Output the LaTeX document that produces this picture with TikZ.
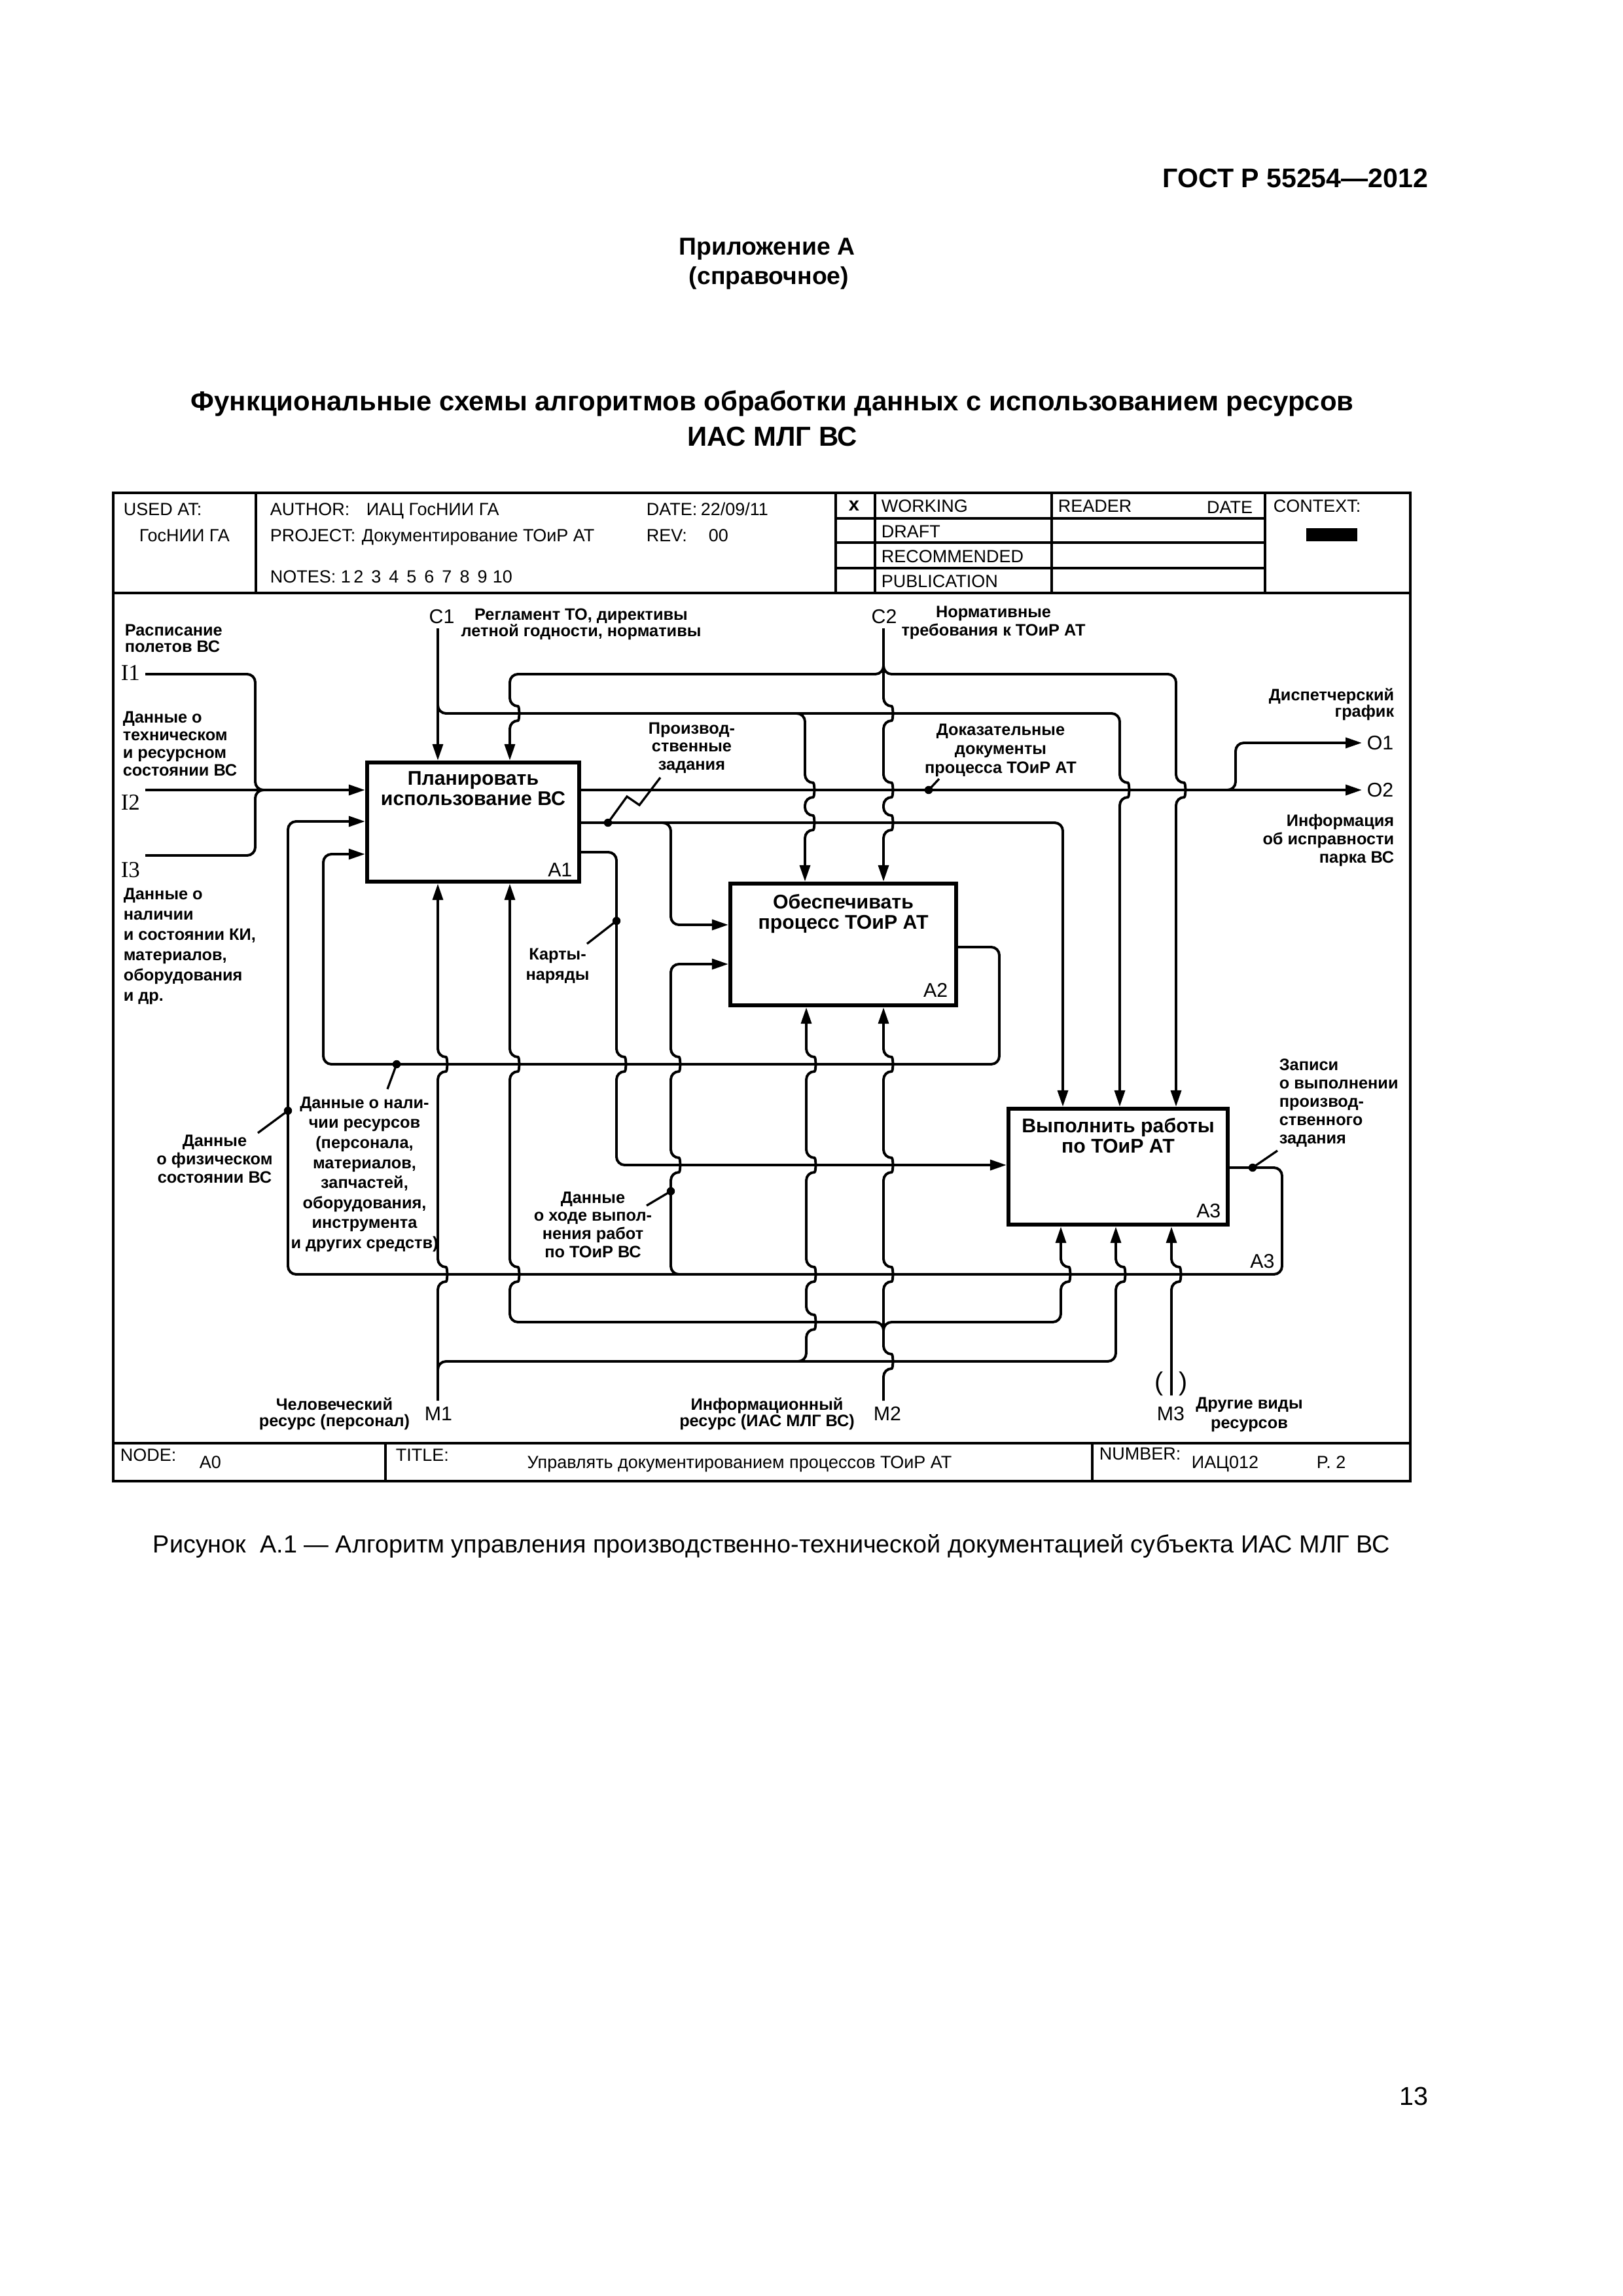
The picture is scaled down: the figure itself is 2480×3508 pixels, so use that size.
\documentclass[tikz,border=0pt]{standalone}
\usepackage{fontspec}
\setmainfont{Liberation Sans}
\newfontfamily\serifI{Liberation Serif}
\usetikzlibrary{arrows.meta}
\setlength{\lineskiplimit}{-5pt}
\begin{document}
\begin{tikzpicture}[x=0.0846774mm, y=-0.0846774mm,
  ln/.style={line width=0.95pt, rounded corners=3pt},
  arr/.style={ln, -{Triangle[length=6pt,width=3.8pt]}},
  lead/.style={line width=0.8pt},
  box/.style={draw, line width=1.5pt, inner sep=0pt},
  hd/.style args={#1/#2}{insert path={-- (#1,#2-11) .. controls (#1+15,#2-11) and (#1+15,#2+11) .. (#1,#2+11)}},
  hu/.style args={#1/#2}{insert path={-- (#1,#2+11) .. controls (#1+15,#2+11) and (#1+15,#2-11) .. (#1,#2-11)}},
  lbl/.style={font=\bfseries\fontsize{6.1}{#1}\selectfont, inner sep=0pt, align=center},
  lbl/.default=6.75,
  hdr/.style={font=\fontsize{6.5}{7.5}\selectfont, inner sep=0pt, anchor=base west},
  ltr/.style={font=\fontsize{7.3}{8}\selectfont, inner sep=0pt},
  iltr/.style={font=\serifI\fontsize{8.4}{9}\selectfont, inner sep=0pt, anchor=west},
  boxt/.style={font=\bfseries\fontsize{7.3}{7.47}\selectfont, inner sep=0pt, align=center, anchor=north},
  boxid/.style={font=\fontsize{7.3}{8}\selectfont, inner sep=0pt, anchor=south east},
  dot/.style={fill=black}
]
\useasboundingbox (0,0) rectangle (2480,3508);

% ---------- page texts ----------
\node[font=\bfseries\fontsize{9.9}{11}\selectfont, inner sep=0pt, anchor=base east] (gost) at (2183,286) {ГОСТ Р 55254—2012};
\node[font=\bfseries\fontsize{9}{10}\selectfont, inner sep=0pt, anchor=base] (pril) at (1172,389) {Приложение А};
\node[font=\bfseries\fontsize{9}{10}\selectfont, inner sep=0pt, anchor=base] (sprav) at (1175,434) {(справочное)};
\node[font=\bfseries\fontsize{10.1}{11}\selectfont, inner sep=0pt, anchor=base] (title1) at (1180,627) {Функциональные схемы алгоритмов обработки данных с использованием ресурсов};
\node[font=\bfseries\fontsize{10.1}{11}\selectfont, inner sep=0pt, anchor=base] (title2) at (1180,681) {ИАС МЛГ ВС};
\node[font=\fontsize{9.1}{11}\selectfont, inner sep=0pt, anchor=base] (caption) at (1179,2372) {Рисунок\ \ А.1 — Алгоритм управления производственно-технической документацией субъекта ИАС МЛГ ВС};
\node[font=\fontsize{9.5}{11}\selectfont, inner sep=0pt, anchor=base east] (pagenum) at (2183,3216) {13};

% ---------- frame ----------
\draw[line width=1pt] (173,753) rectangle (2155,2263);
\draw[line width=0.9pt] (173,906) -- (2155,906);
\draw[line width=0.9pt] (173,2205) -- (2155,2205);
\foreach \xx in {391,1277,1337,1607,1933} \draw[line width=0.9pt] (\xx,753) -- (\xx,906);
\foreach \yy in {792,829,868} \draw[line width=0.9pt] (1277,\yy) -- (1933,\yy);
\draw[line width=0.9pt] (589,2205) -- (589,2263);
\draw[line width=0.9pt] (1669,2205) -- (1669,2263);
\fill (1996,807) rectangle (2074,827);

% header texts
\node[hdr] (usedat) at (188,787) {USED AT:};
\node[hdr] (usedatv) at (212,827) {ГосНИИ ГА};
\node[hdr] (author) at (412,787) {AUTHOR:};
\node[hdr] (authorv) at (559,787) {ИАЦ ГосНИИ ГА};
\node[hdr] (project) at (412,827) {PROJECT:};
\node[hdr] (projectv) at (552,827) {Документирование ТОиР АТ};
\node[hdr] (date) at (987,787) {DATE:};
\node[hdr] (datev) at (1070,787) {22/09/11};
\node[hdr] (rev) at (987,827) {REV:};
\node[hdr] (revv) at (1082,827) {00};
\node[hdr] (notes) at (412,890) {NOTES: 1\,2\hspace{2.9pt}3\hspace{2.9pt}4\hspace{2.9pt}5\hspace{2.9pt}6\hspace{2.9pt}7\hspace{2.9pt}8\hspace{2.9pt}9\hspace{2pt}10};
\node[font=\bfseries\fontsize{7}{8}\selectfont, inner sep=0pt] (xmark) at (1305,773) {x};
\node[hdr] (working) at (1346,782) {WORKING};
\node[hdr] (draft) at (1346,821) {DRAFT};
\node[hdr] (recommended) at (1346,859) {RECOMMENDED};
\node[hdr] (publication) at (1346,897) {PUBLICATION};
\node[hdr] (reader) at (1616,782) {READER};
\node[hdr, anchor=base east] (datec) at (1915,784) {DATE};
\node[hdr] (context) at (1945,782) {CONTEXT:};

% footer texts
\node[hdr] (nodek) at (183,2232) {NODE:};
\node[hdr] (nodev) at (304,2243) {A0};
\node[hdr] (titlek) at (604,2232) {TITLE:};
\node[hdr, anchor=base] (titlev) at (1130,2243) {Управлять документированием процессов ТОиР АТ};
\node[hdr] (numberk) at (1679,2230) {NUMBER:};
\node[hdr] (numberv) at (1820,2243) {ИАЦ012};
\node[hdr] (pagek) at (2011,2243) {P. 2};

% ---------- boxes ----------
\node[box, minimum width=27.44mm, minimum height=15.41mm] (A1) at (723,1256) {};
\node[box, minimum width=29.21mm, minimum height=15.75mm] (A2) at (1288.5,1443) {};
\node[box, minimum width=28.37mm, minimum height=14.99mm] (A3) at (1708.5,1782.5) {};
\node[boxt] (A1t) at ([yshift=-1.35mm]A1.north) {Планировать\\использование ВС};
\node[boxt] (A2t) at ([yshift=-1.6mm]A2.north) {Обеспечивать\\процесс ТОиР АТ};
\node[boxt] (A3t) at ([yshift=-1.4mm]A3.north) {Выполнить работы\\по ТОиР АТ};
\node[boxid] (A1n) at ([xshift=-1.1mm, yshift=0.85mm]A1.south east) {A1};
\node[boxid] (A2n) at ([xshift=-1.27mm, yshift=1.27mm]A2.south east) {A2};
\node[boxid] (A3n) at ([xshift=-1.1mm, yshift=1.1mm]A3.south east) {A3};

% ---------- boundary points ----------
\coordinate (I1) at (222,1030);
\coordinate (I2) at (222,1207);
\coordinate (I3) at (222,1307);
\coordinate (C1) at (669,960);
\coordinate (C2) at (1350,960);
\coordinate (O1) at (2081,1135);
\coordinate (O2) at (2081,1207);
\coordinate (M1) at (669,2140);
\coordinate (M2) at (1350,2140);
\coordinate (M3) at (1790,2132);

% ---------- inputs ----------
\draw[arr] (I2) -- (A1.west |- 0,1207);
\draw[ln] (I1) -- (390,1030) -- (390,1207) -- (425,1207);
\draw[ln] (I3) -- (390,1307) -- (390,1207) -- (425,1207);

% ---------- controls ----------
\draw[arr] (C1) -- (669,0 |- A1.north);
\draw[arr] (669,1060) -- (669,1090) -- (1711,1090) [hd=1711/1207] -- (1711,0 |- A3.north);
\draw[arr] (1200,1090) -- (1230,1090) [hd=1230/1207] [hd=1230/1257] -- (1230,0 |- A2.north);
\draw[arr] (C2) [hd=1350/1090] [hd=1350/1207] [hd=1350/1257] -- (1350,0 |- A2.north);
\draw[arr] (1350,1005) -- (1350,1030) -- (779,1030) [hd=779/1090] -- (779,0 |- A1.north);
\draw[arr] (1350,1005) -- (1350,1030) -- (1797,1030) [hd=1797/1207] -- (1797,0 |- A3.north);

% ---------- outputs of A1 ----------
\draw[arr] (A1.east |- 0,1207) -- (O2);
\draw[arr] (1855,1207) -- (1888,1207) -- (1888,1135) -- (O1);
\draw[arr] (A1.east |- 0,1257) -- (1624,1257) -- (1624,0 |- A3.north);
\draw[arr] (995,1257) -- (1025,1257) -- (1025,1413) -- (A2.west |- 0,1413);
\draw[arr] (A1.east |- 0,1302) -- (942,1302) [hd=942/1626] -- (942,1780) -- (A3.west |- 0,1780);

% ---------- feedback ----------
\draw[arr] (A2.east |- 0,1447) -- (1527,1447) -- (1527,1626) -- (494,1626) -- (494,1305) -- (A1.west |- 0,1305);
\draw[arr] (A3.east |- 0,1784) -- (1959,1784) -- (1959,1947) -- (440,1947) -- (440,1255) -- (A1.west |- 0,1255);
\draw[arr] (1055,1947) -- (1025,1947) [hu=1025/1780] [hu=1025/1626] -- (1025,1473) -- (A2.west |- 0,1473);

% ---------- mechanisms ----------
\draw[arr] (M1) [hu=669/1947] [hu=669/1626] -- (669,0 |- A1.south);
\draw[arr] (669,2105) -- (669,2080) -- (1705,2080) [hu=1705/1947] -- (1705,0 |- A3.south);
\draw[arr] (1205,2080) -- (1232,2080) [hu=1232/2020] [hu=1232/1947] [hu=1232/1780] [hu=1232/1626] -- (1232,0 |- A2.south);
\draw[arr] (M2) [hu=1350/2080] [hu=1350/1947] [hu=1350/1780] [hu=1350/1626] -- (1350,0 |- A2.south);
\draw[arr] (1350,2045) -- (1350,2020) -- (779,2020) [hu=779/1947] [hu=779/1626] -- (779,0 |- A1.south);
\draw[arr] (1350,2045) -- (1350,2020) -- (1621,2020) [hu=1621/1947] -- (1621,0 |- A3.south);
\draw[arr] (M3) [hu=1790/1947] -- (1790,0 |- A3.south);

% ---------- leaders and dots ----------
\fill[dot] (929,1257) circle[radius=1.5pt];
\draw[lead] (929,1257) -- (958,1217) -- (977,1230) -- (1009,1188);
\fill[dot] (1419,1207) circle[radius=1.5pt];
\draw[lead] (1419,1207) -- (1435,1190);
\fill[dot] (942,1407) circle[radius=1.5pt];
\draw[lead] (942,1407) -- (897,1442);
\fill[dot] (606,1626) circle[radius=1.5pt];
\draw[lead] (606,1626) -- (592,1664);
\fill[dot] (440,1697) circle[radius=1.5pt];
\draw[lead] (440,1697) -- (394,1731);
\fill[dot] (1025,1820) circle[radius=1.5pt];
\draw[lead] (1025,1820) -- (988,1842);
\fill[dot] (1914,1784) circle[radius=1.5pt];
\draw[lead] (1914,1784) -- (1952,1758);

% ---------- letters ----------
\node[ltr] (C1l) at (675,942) {C1};
\node[ltr] (C2l) at (1351,942) {C2};
\node[ltr] (M1l) at (670,2160) {M1};
\node[ltr] (M2l) at (1356,2160) {M2};
\node[ltr] (M3l) at (1789,2160) {M3};
\node[ltr, anchor=west] (O1l) at (2088,1135) {O1};
\node[ltr, anchor=west] (O2l) at (2088,1207) {O2};
\node[ltr] (A3loop) at (1929,1927) {A3};
\node[iltr] (I1l) at (184,1028) {I1};
\node[iltr] (I2l) at (184,1226) {I2};
\node[iltr] (I3l) at (184,1329) {I3};
\node[font=\fontsize{9.5}{10}\selectfont, inner sep=0pt] (parL) at (1771,2114) {(};
\node[font=\fontsize{9.5}{10}\selectfont, inner sep=0pt] (parR) at (1808,2114) {)};

% ---------- arrow labels ----------
\node[lbl=6.02, anchor=north] (lReg) at (888,929) {Регламент ТО, директивы\\летной годности, нормативы};
\node[lbl=6.745, anchor=north] (lNorm) at (1518,925) {Нормативные\\требования к ТОиР АТ};
\node[lbl=6.02, anchor=north west, align=left] (lRasp) at (190,953) {Расписание\\полетов ВС};
\node[lbl=6.5, anchor=north west, align=left] (lTech) at (187,1086) {Данные о\\техническом\\и ресурсном\\состоянии ВС};
\node[lbl=7.47, anchor=north west, align=left] (lNal) at (188,1356) {Данные о\\наличии\\и состоянии КИ,\\материалов,\\оборудования\\и др.};
\node[lbl=6.62, anchor=north] (lProiz) at (1057,1103) {Производ-\\ственные\\задания};
\node[lbl=6.99, anchor=north] (lDok) at (1529,1105) {Доказательные\\документы\\процесса ТОиР АТ};
\node[lbl=6.02, anchor=north east, align=right] (lDisp) at (2131,1051) {Диспетчерский\\график};
\node[lbl=6.745, anchor=north east, align=right] (lInf) at (2131,1243) {Информация\\об исправности\\парка ВС};
\node[lbl=7.47, anchor=north] (lKarty) at (852,1448) {Карты-\\наряды};
\node[lbl=7.37, anchor=north] (lRes) at (557,1675) {Данные о нали-\\чии ресурсов\\(персонала,\\материалов,\\запчастей,\\оборудования,\\инструмента\\и других средств)};
\node[lbl=6.745, anchor=north] (lFiz) at (328,1733) {Данные\\о физическом\\состоянии ВС};
\node[lbl=6.67, anchor=north] (lHod) at (906,1820) {Данные\\о ходе выпол-\\нения работ\\по ТОиР ВС};
\node[lbl=6.745, anchor=north west, align=left] (lZap) at (1954,1617) {Записи\\о выполнении\\производ-\\ственного\\задания};
\node[lbl=6.02, anchor=north] (lChel) at (511,2135) {Человеческий\\ресурс (персонал)};
\node[lbl=6.02, anchor=north] (lInfo) at (1172,2135) {Информационный\\ресурс (ИАС МЛГ ВС)};
\node[lbl=7.2, anchor=north] (lDrug) at (1909,2134) {Другие виды\\ресурсов};
\end{tikzpicture}
\end{document}
